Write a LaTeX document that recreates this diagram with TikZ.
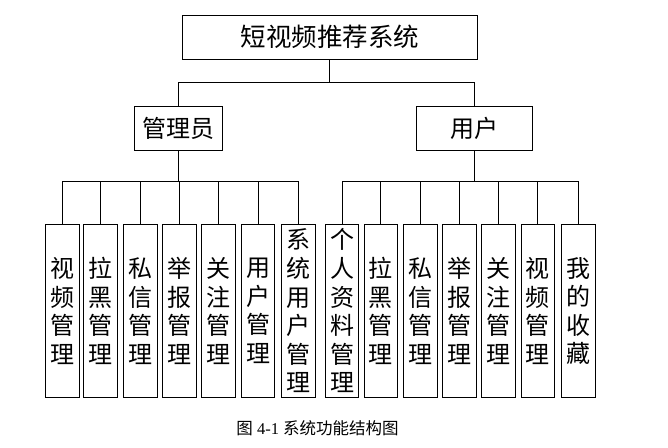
\documentclass[tikz,border=0pt]{standalone}
\usepackage{fontspec}
\setmainfont{Liberation Serif}
\newfontfamily\cjk{Noto Sans CJK SC}
\begin{document}
\begin{tikzpicture}[x=1pt,y=-1pt,
  box/.style={draw, line width=0.9pt, inner sep=0pt},
  leaf/.style={box, anchor=north, minimum width=33.5pt, minimum height=173pt, align=center, font=\cjk\fontsize{24}{28.6}\selectfont},
  conn/.style={line width=0.9pt}]
\useasboundingbox (0,0) rectangle (668,447);
\fill[white] (0,0) rectangle (668,447);
% top level
\node[box, minimum width=295pt, minimum height=44pt, font=\cjk\fontsize{25.5}{28}\selectfont] (top) at (329.8,37) {短视频推荐系统};
\node[box, minimum width=88.7pt, minimum height=44.3pt, font=\cjk\fontsize{24}{28}\selectfont] (admin) at (178.3,128.2) {管理员};
\node[box, minimum width=116pt, minimum height=44.3pt, font=\cjk\fontsize{24}{28}\selectfont] (user) at (474.7,128.2) {用户};
\coordinate (b1) at (329.8,82.3);
\draw[conn] (top.south) -- (b1);
\draw[conn] (admin.north) |- (b1) -| (user.north);
% admin leaves
\node[leaf] (a1) at (62.3,224) {视\\频\\管\\理};
\node[leaf] (a2) at (100.5,224) {拉\\黑\\管\\理};
\node[leaf] (a3) at (140.3,224) {私\\信\\管\\理};
\node[leaf] (a4) at (179.5,224) {举\\报\\管\\理};
\node[leaf] (a5) at (218.3,224) {关\\注\\管\\理};
\node[leaf] (a6) at (258,224) {用\\户\\管\\理};
\node[leaf] (a7) at (298.5,224) {系\\统\\用\\户\\管\\理};
% user leaves
\node[leaf] (u1) at (342,224) {个\\人\\资\\料\\管\\理};
\node[leaf] (u2) at (380.7,224) {拉\\黑\\管\\理};
\node[leaf] (u3) at (420.5,224) {私\\信\\管\\理};
\node[leaf] (u4) at (459.5,224) {举\\报\\管\\理};
\node[leaf] (u5) at (498.3,224) {关\\注\\管\\理};
\node[leaf] (u6) at (537.8,224) {视\\频\\管\\理};
\node[leaf] (u7) at (578.3,224) {我\\的\\收\\藏};
% buses
\coordinate (bL) at (178.3,181.7);
\coordinate (bR) at (474.7,181.7);
\draw[conn] (admin.south) -- (bL);
\draw[conn] (user.south) -- (bR);
\foreach \n in {a1,a2,a3,a4,a5,a6,a7} \draw[conn] (\n.north) |- (bL);
\foreach \n in {u1,u2,u3,u4,u5,u6,u7} \draw[conn] (\n.north) |- (bR);
% caption
\node[font=\fontsize{16.5}{18}\selectfont, inner sep=0pt] (cap) at (317.5,428) {{\cjk 图} 4-1 {\cjk 系统功能结构图}};
\end{tikzpicture}
\end{document}
